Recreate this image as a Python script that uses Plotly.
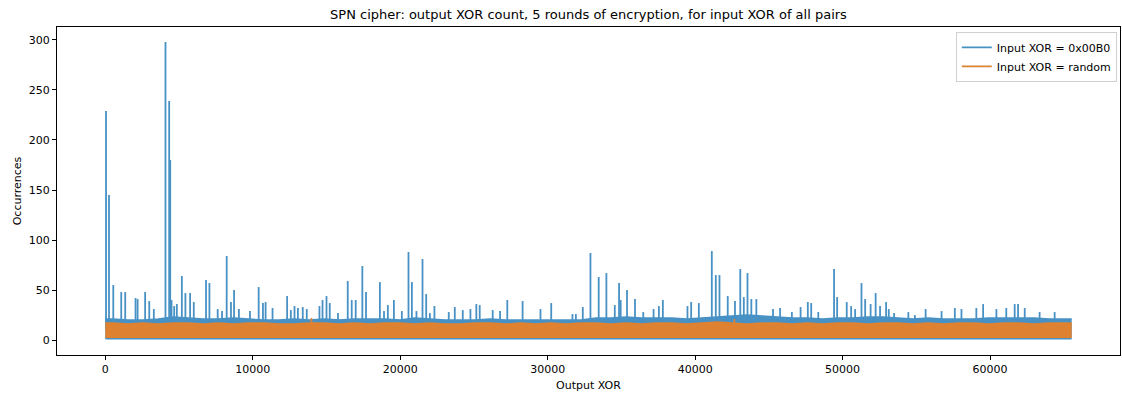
import plotly.graph_objects as go

# Output XOR domain of the 16-bit SPN block
xor_max = 65535
block_width = 1024

# Dense part of each count series, summarised per 1024-wide block of output XOR
fixed_band_high = [21, 20, 20, 21, 23, 22, 21, 21, 22, 21,
                   20, 20, 21, 20, 21, 20, 21, 21, 21, 20,
                   22, 21, 20, 20, 20, 21, 20, 20, 20, 20,
                   20, 20, 22, 22, 23, 22, 22, 22, 21, 22,
                   23, 24, 25, 24, 23, 22, 22, 21, 22, 22,
                   23, 23, 22, 21, 22, 21, 21, 21, 22, 22,
                   22, 22, 21, 21]
fixed_band_low = [0.5] * 64
random_band_high = [17, 16, 17, 16, 17, 17, 16, 17, 16, 17,
                    17, 16, 16, 17, 17, 16, 17, 16, 17, 17,
                    16, 17, 16, 16, 17, 17, 16, 17, 16, 17,
                    16, 17, 17, 16, 17, 16, 17, 17, 16, 17,
                    18, 17, 16, 17, 17, 16, 17, 16, 17, 17,
                    16, 17, 17, 16, 17, 16, 17, 17, 16, 17,
                    17, 16, 17, 17]
random_band_low = [2] * 64

# Individual output XOR values with counts standing above the dense band
fixed_peak_x = [48, 250, 540, 1080, 1350, 2050, 2190, 2700, 2980, 3290,
                4080, 4330, 4400, 4490, 4670, 4850, 5190, 5430, 5750, 6000,
                6830, 7060, 7620, 7915, 8230, 8520, 8730, 9060, 9810, 10400,
                10690, 10870, 11340, 12330, 12580, 12830, 13060, 13390, 13660, 14520,
                14730, 15000, 15220, 15780, 16440, 16710, 16980, 17430, 17680, 18620,
                18900, 19160, 19570, 20110, 20560, 20790, 21100, 21510, 21760, 22010,
                22320, 23290, 23700, 24240, 24760, 25160, 25390, 26270, 26770, 27260,
                28300, 29510, 30240, 31680, 31910, 32380, 32900, 33460, 33980, 34550,
                34840, 34950, 35380, 35920, 36480, 37180, 37540, 37810, 39480, 39730,
                40250, 41130, 41400, 41650, 42210, 42700, 43060, 43300, 43550, 43810,
                44150, 45280, 45760, 46560, 47150, 47640, 47870, 48350, 49420, 49630,
                50280, 50580, 50850, 51280, 51530, 51900, 52240, 52540, 52950, 53130,
                53490, 54460, 54900, 55630, 56710, 57610, 58060, 59070, 59530, 60430,
                61100, 61670, 61900, 62350, 63360, 64380]
fixed_peak_y = [229, 145, 55, 48, 48, 42, 41, 48, 39, 31,
                298, 239, 180, 40, 34, 36, 64, 47, 47, 38,
                60, 57, 31, 29, 84, 38, 50, 31, 29, 53,
                37, 38, 32, 44, 30, 34, 32, 33, 31, 34,
                40, 44, 37, 27, 59, 40, 40, 74, 48, 58,
                29, 35, 40, 29, 88, 58, 29, 81, 46, 27,
                34, 28, 33, 30, 31, 36, 35, 30, 29, 40,
                39, 31, 37, 26, 26, 33, 87, 63, 67, 35,
                57, 40, 50, 41, 28, 31, 34, 40, 34, 38,
                37, 89, 65, 65, 44, 39, 71, 43, 67, 41,
                41, 31, 32, 28, 33, 38, 37, 28, 71, 43,
                38, 34, 31, 57, 41, 36, 47, 34, 38, 31,
                27, 28, 25, 31, 29, 32, 31, 32, 36, 31,
                32, 36, 36, 32, 28, 28]
random_peak_x = [13980, 42660]
random_peak_y = [22, 21]

x_ticks = [0, 10000, 20000, 30000, 40000, 50000, 60000]
y_ticks = [0, 50, 100, 150, 200, 250, 300]

BLUE = "rgb(72,145,197)"
ORANGE = "rgb(222,130,50)"
peak_base = 10


def band_traces(high, low, color, group):
    xs = [i * block_width + block_width / 2 for i in range(len(high))]
    xs = [0] + xs + [xor_max]
    lo = [low[0]] + low + [low[-1]]
    hi = [high[0]] + high + [high[-1]]
    return [
        go.Scatter(x=xs, y=lo, mode="lines", line=dict(width=0, color=color),
                   showlegend=False, legendgroup=group, hoverinfo="skip"),
        go.Scatter(x=xs, y=hi, mode="lines", line=dict(width=1.5, color=color),
                   fill="tonexty", fillcolor=color, showlegend=False,
                   legendgroup=group, hoverinfo="skip"),
    ]


def peak_trace(px, py, color, name, group):
    xs, ys = [], []
    for x, y in zip(px, py):
        xs += [x, x, None]
        ys += [peak_base, y, None]
    return go.Scatter(x=xs, y=ys, mode="lines", line=dict(width=1.8, color=color),
                      name=name, legendgroup=group)


fig = go.Figure()
for t in band_traces(fixed_band_high, fixed_band_low, BLUE, "fixed"):
    fig.add_trace(t)
fig.add_trace(peak_trace(fixed_peak_x, fixed_peak_y, BLUE, "Input XOR = 0x00B0", "fixed"))
for t in band_traces(random_band_high, random_band_low, ORANGE, "random"):
    fig.add_trace(t)
fig.add_trace(peak_trace(random_peak_x, random_peak_y, ORANGE, "Input XOR = random", "random"))

pad_x = xor_max * 0.05
ymax = max(fixed_peak_y)
axis_common = dict(showline=True, linecolor="black", linewidth=1, mirror=True,
                   ticks="outside", ticklen=4, tickcolor="black", showgrid=False,
                   zeroline=False, tickfont=dict(size=11, color="black"))

fig.update_layout(
    width=1122, height=396,
    margin=dict(l=57, r=2, t=27, b=41),
    paper_bgcolor="white", plot_bgcolor="white",
    font=dict(family="DejaVu Sans", size=11, color="black"),
    title=dict(text="SPN cipher: output XOR count, 5 rounds of encryption, for input XOR of all pairs",
               x=0.5245, xanchor="center", y=0.963, yanchor="middle", font=dict(size=13)),
    xaxis=dict(range=[-pad_x, xor_max + pad_x], tickvals=x_ticks,
               ticktext=[str(v) for v in x_ticks],
               title=dict(text="Output XOR", standoff=6, font=dict(size=11)), **axis_common),
    yaxis=dict(range=[-ymax * 0.05, ymax * 1.05], tickvals=y_ticks,
               ticktext=[str(v) for v in y_ticks],
               title=dict(text="Occurrences", standoff=4, font=dict(size=11)), **axis_common),
    legend=dict(x=0.997, y=0.985, xanchor="right", yanchor="top", bgcolor="rgba(255,255,255,0.8)",
                bordercolor="#d0d0d0", borderwidth=1, font=dict(size=11), tracegroupgap=0),
)

fig.write_html("out.html")
